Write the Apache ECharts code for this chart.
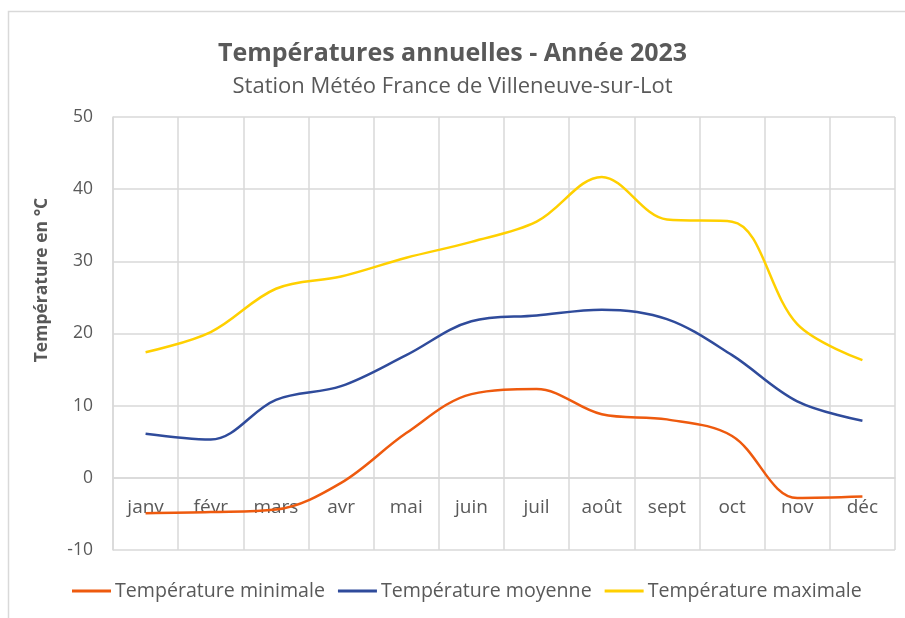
<!DOCTYPE html>
<html>
<head>
<meta charset="utf-8">
<script src="https://cdn.jsdelivr.net/npm/echarts@6/dist/echarts.min.js"></script>
<style>
html,body{margin:0;padding:0;background:#fff;}
#chart{width:905px;height:618px;}
</style>
</head>
<body>
<div id="chart"></div>
<script>
const months = ['janv','févr','mars','avr','mai','juin','juil','août','sept','oct','nov','déc'];
const tMin = [-4.9, -4.75, -4.4, -0.7, 6.2, 11.6, 12.3, 8.8, 8.1, 5.8, -2.8, -2.6];
const tMoy = [6.1, 5.3, 10.8, 12.7, 17.0, 21.7, 22.5, 23.3, 22.0, 17.0, 10.6, 7.9];
const tMax = [17.4, 20.2, 26.2, 27.9, 30.5, 32.7, 35.5, 41.7, 35.8, 35.5, 21.3, 16.3];
const yTicks = {min: -10, max: 50, interval: 10};

const font = '"Open Sans", "Noto Sans", sans-serif';
const txt = '#595959';
const chart = echarts.init(document.getElementById('chart'), null, {renderer: 'canvas'});
const mk = (name, data, color) => ({
  name, type: 'line', data, smooth: 0.35, symbol: 'none',
  lineStyle: {color, width: 2.5}, itemStyle: {color}
});
chart.setOption({
  animation: false,
  backgroundColor: '#fff',
  title: {
    text: 'Températures annuelles - Année 2023',
    subtext: 'Station Météo France de Villeneuve-sur-Lot',
    left: 'center', top: 33, itemGap: 3,
    textStyle: {fontFamily: font, fontSize: 25, fontWeight: 'bold', color: txt, lineHeight: 32},
    subtextStyle: {fontFamily: font, fontSize: 22, color: txt, lineHeight: 27}
  },
  legend: {
    bottom: 12, left: 67, itemWidth: 39, itemHeight: 3, itemGap: 13,
    icon: 'rect',
    textStyle: {fontFamily: font, fontSize: 19.6, color: txt, padding: [0,0,0,-1]}
  },
  grid: {left: 113, right: 10, top: 117, bottom: 68},
  xAxis: {
    type: 'category', data: months, boundaryGap: true,
    offset: -72,
    axisLine: {show: true, onZero: false, lineStyle: {color: '#d9d9d9', width: 1.5}},
    axisTick: {show: false},
    axisLabel: {fontFamily: font, fontSize: 19, color: txt, margin: 20},
    splitLine: {show: true, lineStyle: {color: '#d9d9d9', width: 1.5}}
  },
  yAxis: {
    type: 'value', min: yTicks.min, max: yTicks.max, interval: yTicks.interval,
    axisLine: {show: true, lineStyle: {color: '#d9d9d9', width: 1.5}},
    axisTick: {show: false},
    axisLabel: {fontFamily: font, fontSize: 17.5, color: txt, margin: 20},
    splitLine: {lineStyle: {color: '#d9d9d9', width: 1.5}}
  },
  graphic: [
    {type: 'rect', shape: {x: 8.5, y: 11.5, width: 920, height: 640},
     style: {fill: 'none', stroke: '#d9d9d9', lineWidth: 1.5}, silent: true},
    {type: 'text', x: 42, y: 280, rotation: Math.PI/2,
     style: {text: 'Température en °C', fontFamily: font, fontSize: 17.5, fontWeight: 'bold',
             fill: txt, align: 'center', verticalAlign: 'middle'}}
  ],
  series: [
    mk('Température minimale', tMin, '#EE5A0E'),
    mk('Température moyenne', tMoy, '#2F4B9B'),
    mk('Température maximale', tMax, '#FFD000')
  ]
});
</script>
</body>
</html>
